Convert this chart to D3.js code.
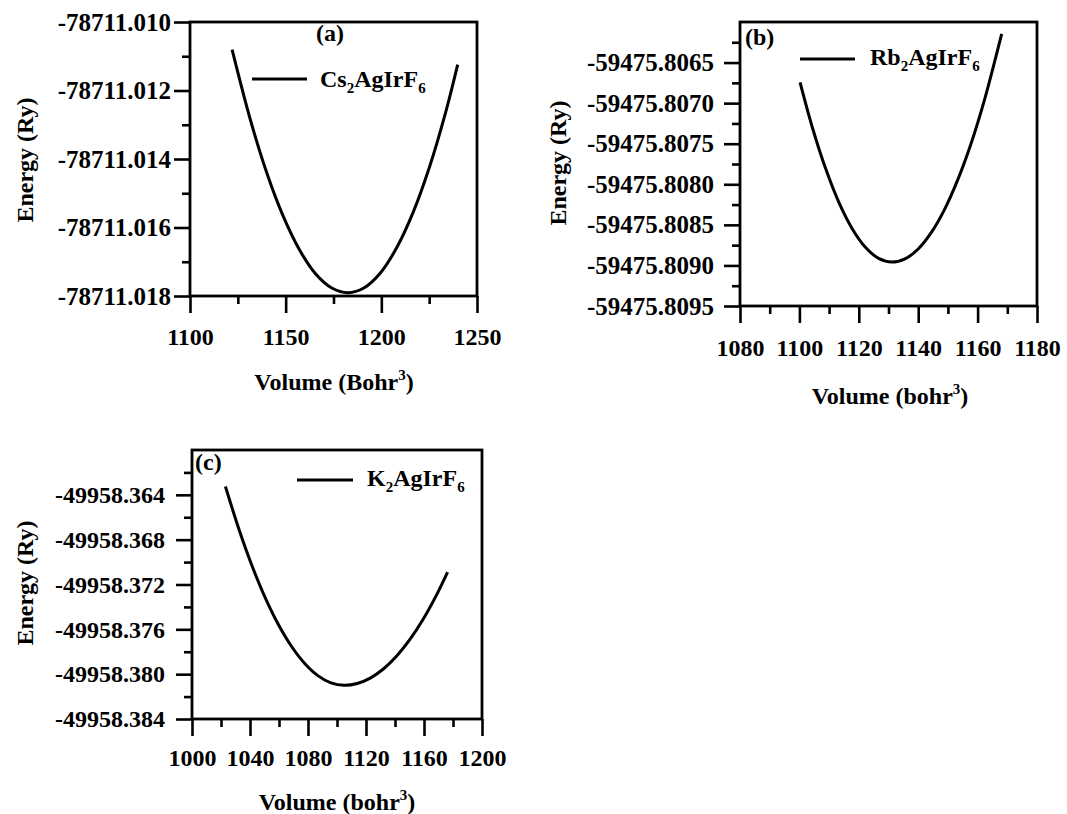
<!DOCTYPE html>
<html><head><meta charset="utf-8">
<script src="https://cdn.jsdelivr.net/npm/d3@7"></script>
<style>
body{margin:0;background:#fff;}
svg text{font-family:"Liberation Serif","Times New Roman",serif;font-weight:bold;fill:#000;}
</style></head><body>
<svg id="chart" width="1067" height="814"></svg>
<script>
// ---- Cs2AgIrF6 : energy vs volume ----
const volumeCs = [1122.0, 1131.7, 1140.2, 1148.7, 1157.2, 1165.6, 1174.1, 1182.6, 1191.1, 1199.6, 1208.0, 1216.5, 1225.0, 1233.5, 1239.9];
const energyCs = [-78711.010806, -78711.012883, -78711.014417, -78711.015670, -78711.016650, -78711.017350, -78711.017767, -78711.017903,
                  -78711.017757, -78711.017320, -78711.016592, -78711.015573, -78711.014262, -78711.012660, -78711.011243];
const xTicksCs = [1100, 1150, 1200, 1250];
const xMinorCs = [1125, 1175, 1225];
const yTicksCs = [-78711.010, -78711.012, -78711.014, -78711.016, -78711.018];
const yMinorCs = [-78711.011, -78711.013, -78711.015, -78711.017];

// ---- Rb2AgIrF6 ----
const volumeRb = [1100.22, 1104.44, 1108.89, 1113.33, 1117.78, 1122.22, 1126.67, 1131.11, 1135.56, 1140.00, 1144.44, 1148.89, 1153.33, 1157.78, 1162.22, 1168.11];
const energyRb = [-59475.806744, -59475.807309, -59475.807813, -59475.808226, -59475.808547, -59475.808776, -59475.808913, -59475.808959,
                  -59475.808919, -59475.808797, -59475.808593, -59475.808309, -59475.807943, -59475.807500, -59475.806972, -59475.806146];
const xTicksRb = [1080, 1100, 1120, 1140, 1160, 1180];
const xMinorRb = [1090, 1110, 1130, 1150, 1170];
const yTicksRb = [-59475.8065, -59475.8070, -59475.8075, -59475.8080, -59475.8085, -59475.8090, -59475.8095];
const yMinorRb = [-59475.80625, -59475.80675, -59475.80725, -59475.80775, -59475.80825, -59475.80875, -59475.80925];

// ---- K2AgIrF6 ----
const volumeK = [1023.05, 1032.54, 1041.58, 1050.62, 1059.66, 1068.70, 1077.74, 1086.78, 1095.82, 1104.86, 1113.90, 1122.94, 1131.98, 1141.02, 1150.06, 1159.10, 1168.14, 1176.27];
const energyK = [-49958.363257, -49958.367135, -49958.370389, -49958.373212, -49958.375590, -49958.377533, -49958.379049, -49958.380131, -49958.380782,
                 -49958.380999, -49958.380838, -49958.380351, -49958.379542, -49958.378407, -49958.376951, -49958.375174, -49958.373064, -49958.370894];
const xTicksK = [1000, 1040, 1080, 1120, 1160, 1200];
const xMinorK = [1020, 1060, 1100, 1140, 1180];
const yTicksK = [-49958.364, -49958.368, -49958.372, -49958.376, -49958.380, -49958.384];
const yMinorK = [-49958.362, -49958.366, -49958.370, -49958.374, -49958.378, -49958.382];

// tick labels use a plain hyphen for the minus sign
const loc = d3.formatLocale({decimal: ".", thousands: ",", grouping: [3], currency: ["", ""], minus: "-"});

const panels = [
  {tag: "(a)", formula: ["Cs", "2", "AgIrF", "6"], unit: "Bohr",
   vol: volumeCs, en: energyCs, xDom: [1100, 1250], yDom: [-78711.018, -78711.010],
   xT: xTicksCs, xM: xMinorCs, yT: yTicksCs, yM: yMinorCs, fmt: loc.format(".3f"),
   box: {l: 190, t: 22, r: 477, b: 296}, yPad: 3, xPad: 15, yfs: 25,
   tagPos: [330, 41, "middle"], leg: {x1: 252, x2: 307, y: 79, tx: 320, ty: 87},
   xTitle: [334, 390], yTitle: [25, 160]},
  {tag: "(b)", formula: ["Rb", "2", "AgIrF", "6"], unit: "bohr",
   vol: volumeRb, en: energyRb, xDom: [1080, 1180], yDom: [-59475.8095, -59475.8060],
   xT: xTicksRb, xM: xMinorRb, yT: yTicksRb, yM: yMinorRb, fmt: loc.format(".4f"),
   box: {l: 740, t: 22, r: 1037, b: 306}, yPad: 10, xPad: 16, yfs: 25,
   tagPos: [745, 45, "start"], leg: {x1: 800, x2: 855, y: 59, tx: 870, ty: 65},
   xTitle: [890, 404], yTitle: [558, 163]},
  {tag: "(c)", formula: ["K", "2", "AgIrF", "6"], unit: "bohr",
   vol: volumeK, en: energyK, xDom: [1000, 1200], yDom: [-49958.384, -49958.360],
   xT: xTicksK, xM: xMinorK, yT: yTicksK, yM: yMinorK, fmt: loc.format(".3f"),
   box: {l: 192, t: 450, r: 482, b: 719}, yPad: 11, xPad: 13, yfs: 24,
   tagPos: [195, 470, "start"], leg: {x1: 297, x2: 353, y: 480, tx: 367, ty: 486},
   xTitle: [337, 810], yTitle: [25, 583]}
];

const svg = d3.select("#chart");
const FS = 24;

panels.forEach(p => {
  const B = p.box;
  const x = d3.scaleLinear().domain(p.xDom).range([B.l, B.r]);
  const y = d3.scaleLinear().domain(p.yDom).range([B.b, B.t]);
  const g = svg.append("g");

  // minor ticks
  g.append("g").attr("transform", `translate(0,${B.b})`)
    .call(d3.axisBottom(x).tickValues(p.xM).tickSize(8).tickSizeOuter(0).tickFormat(""));
  g.append("g").attr("transform", `translate(${B.l},0)`)
    .call(d3.axisLeft(y).tickValues(p.yM).tickSize(8).tickSizeOuter(0).tickFormat(""));
  // major ticks with labels
  g.append("g").attr("class", "xax").attr("transform", `translate(0,${B.b})`)
    .call(d3.axisBottom(x).tickValues(p.xT).tickSize(17).tickSizeOuter(0).tickPadding(p.xPad).tickFormat(d3.format("d")));
  g.append("g").attr("class", "yax").attr("transform", `translate(${B.l},0)`)
    .call(d3.axisLeft(y).tickValues(p.yT).tickSize(16).tickSizeOuter(0).tickPadding(p.yPad).tickFormat(p.fmt));

  g.selectAll(".domain").remove();
  g.selectAll(".tick line").attr("stroke", "#000").attr("stroke-width", 2.6);
  g.selectAll(".tick text").attr("font-size", FS).attr("font-family", null).attr("fill", "#000");
  g.selectAll(".yax .tick text").attr("font-size", p.yfs);

  // frame
  g.append("rect").attr("x", B.l).attr("y", B.t).attr("width", B.r - B.l).attr("height", B.b - B.t)
    .attr("fill", "none").attr("stroke", "#000").attr("stroke-width", 2.8);

  // energy-volume curve
  const pts = p.vol.map((v, i) => [v, p.en[i]]);
  g.append("path").datum(pts)
    .attr("d", d3.line().x(d => x(d[0])).y(d => y(d[1])).curve(d3.curveCatmullRom.alpha(0.5)))
    .attr("fill", "none").attr("stroke", "#000").attr("stroke-width", 3);

  // panel tag
  g.append("text").attr("x", p.tagPos[0]).attr("y", p.tagPos[1]).attr("text-anchor", p.tagPos[2])
    .attr("font-size", FS).text(p.tag);

  // legend
  g.append("line").attr("x1", p.leg.x1).attr("x2", p.leg.x2).attr("y1", p.leg.y).attr("y2", p.leg.y)
    .attr("stroke", "#000").attr("stroke-width", 3);
  const lt = g.append("text").attr("x", p.leg.tx).attr("y", p.leg.ty).attr("font-size", FS);
  lt.append("tspan").text(p.formula[0]);
  lt.append("tspan").attr("font-size", 15).attr("dy", 6).text(p.formula[1]);
  lt.append("tspan").attr("dy", -6).text(p.formula[2]);
  lt.append("tspan").attr("font-size", 15).attr("dy", 6).text(p.formula[3]);

  // axis titles
  const xt = g.append("text").attr("x", p.xTitle[0]).attr("y", p.xTitle[1]).attr("text-anchor", "middle").attr("font-size", FS);
  xt.append("tspan").text(`Volume (${p.unit}`);
  xt.append("tspan").attr("font-size", 15).attr("dy", -10).text("3");
  xt.append("tspan").attr("dy", 10).text(")");

  g.append("text").attr("transform", `translate(${p.yTitle[0]},${p.yTitle[1]}) rotate(-90)`)
    .attr("text-anchor", "middle").attr("dy", "0.35em").attr("font-size", FS).text("Energy (Ry)");
});
</script>
</body></html>
